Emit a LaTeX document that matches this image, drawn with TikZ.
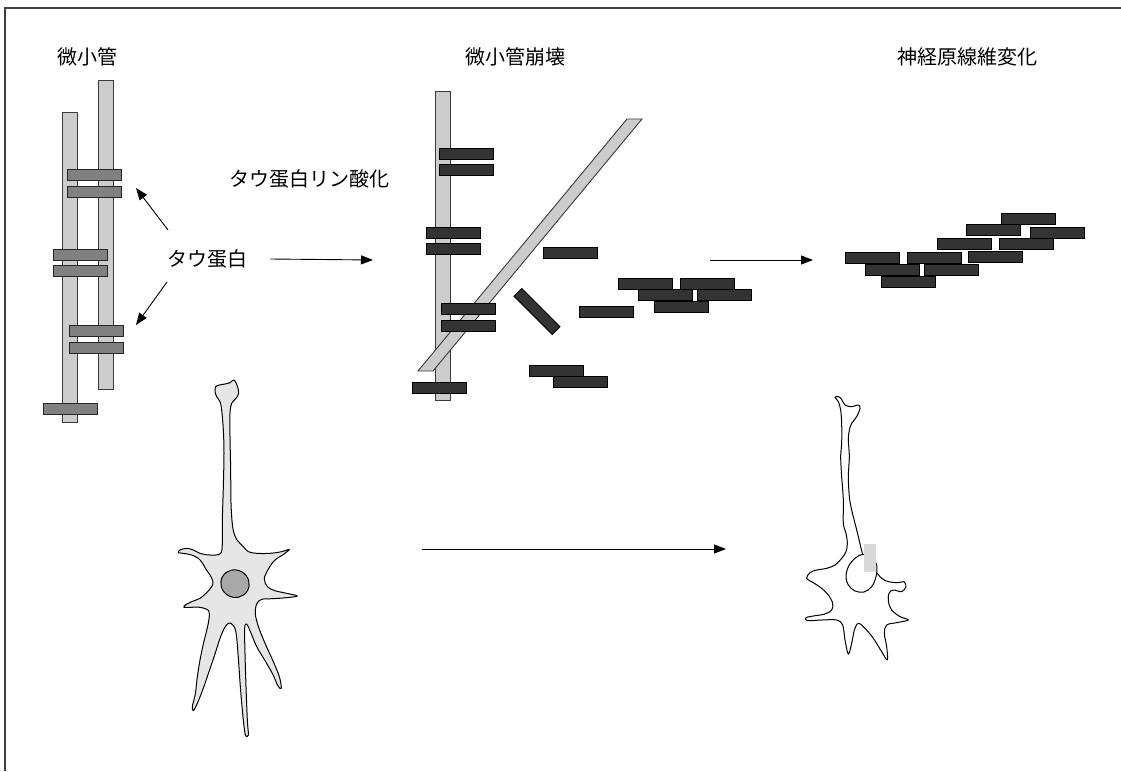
\documentclass[tikz,border=0pt]{standalone}
\usepackage{fontspec}
\newfontfamily\jpfont{Noto Sans CJK JP}
\usetikzlibrary{arrows.meta}
\definecolor{tubefill}{HTML}{CCCCCC}
\definecolor{tubeline}{HTML}{3A3A3A}
\definecolor{taufill}{HTML}{808080}
\definecolor{darkfill}{HTML}{333333}
\definecolor{cellfill}{HTML}{E6E6E6}
\definecolor{nucfill}{HTML}{A8A8A8}
\definecolor{framecol}{HTML}{404040}
\definecolor{patch}{HTML}{D9D9D9}
% a short bar of given top-left corner
\newcommand\taubar[2]{\draw[taubox] (#1,#2) rectangle ++(54,11.5);}
\newcommand\darkbar[2]{\draw[darkbox] (#1,#2) rectangle ++(54.5,11.5);}
\begin{document}
\begin{tikzpicture}[x=1pt,y=-1pt,
  lbl/.style={font=\jpfont\fontsize{20}{24}\selectfont, inner sep=0pt},
  tube/.style={fill=tubefill, draw=tubeline, line width=0.9pt},
  taubox/.style={fill=taufill, draw=black!85, line width=0.9pt},
  darkbox/.style={fill=darkfill, draw=black, line width=0.9pt},
  arr/.style={-{Triangle[length=12pt,width=9pt]}, line width=0.9pt},
  cell/.style={line width=1pt, draw=black, line join=round}]
\useasboundingbox (0,0) rectangle (1121,771);

% frame on the left and top
\draw[framecol, line width=1.6pt] (5,771) -- (5,8) -- (1121,8);

% titles
\node[lbl, anchor=west] (tmt) at (57,57) {微小管};
\node[lbl, anchor=west] (tcol) at (465,57) {微小管崩壊};
\node[lbl, anchor=west] (tnft) at (897,57) {神経原線維変化};
\node[lbl, anchor=west] (ttau) at (167,259) {タウ蛋白};
\node[lbl, anchor=west] (tphos) at (229,179) {タウ蛋白リン酸化};

% ---------- intact microtubules with tau ----------
\draw[tube] (62,112) rectangle (77,422);
\draw[tube] (98,80) rectangle (113,389);
\taubar{67}{169}
\taubar{67}{186}
\taubar{53}{249}
\taubar{53}{265}
\taubar{69}{325}
\taubar{69}{342}
\taubar{43}{403}

% tau label arrows
\coordinate (upS) at (168,230);
\coordinate (upE) at (136,188);
\coordinate (dnS) at (167,282);
\coordinate (dnE) at (136,325);
\coordinate (midE) at (373,260);
\draw[arr] (upS) -- (upE);
\draw[arr] (dnS) -- (dnE);
\draw[arr] (ttau.east) ++(23,0) coordinate (midS) -- (midE);

% ---------- collapsing microtubules ----------
\draw[tube] (435,91) rectangle (450,400);
\draw[tube] (418,371) -- (433,371) -- (642,119) -- (627,119) -- cycle;
\darkbar{439}{148}
\darkbar{439}{164}
\darkbar{426}{227}
\darkbar{426}{243}
\darkbar{441}{303}
\darkbar{441}{320}
\darkbar{412}{382}
\darkbar{543}{247}
\draw[darkbox] (514,296.3) -- (521.8,288.5) -- (560,326.7) -- (552.2,334.5) -- cycle;
\darkbar{579}{306}
\darkbar{618}{278}
\darkbar{680}{278}
\darkbar{638}{289}
\darkbar{697}{289}
\darkbar{654}{301}
\darkbar{529}{365}
\darkbar{553}{376}

\coordinate (rS) at (710,260);
\coordinate (rE) at (813,260);
\draw[arr] (rS) -- (rE);

% ---------- tangle ----------
\darkbar{1001}{213}
\darkbar{966}{224}
\darkbar{1030}{227}
\darkbar{937}{238}
\darkbar{999}{238}
\darkbar{968}{251}
\darkbar{845}{252}
\darkbar{907}{252}
\darkbar{865}{264}
\darkbar{924}{264}
\darkbar{881}{276}

% ---------- healthy neuron ----------
\begin{scope}[shift={(160,370)}, scale=1/3]
\draw[cell, fill=cellfill] plot[smooth cycle, tension=0.55] coordinates {
 (185,120) (180,95) (170,80) (165,65) (167,50) (178,45) (195,42) (210,38) (222,30)
 (232,48) (236,70) (228,85) (215,100) (210,130)
 (210,200) (212,300) (213,400) (218,470) (228,505) (250,530) (265,545) (290,550)
 (330,550) (365,545) (388,538) (372,552) (345,570) (328,592) (313,625) (322,650)
 (345,662) (380,670) (412,678)
 (380,683) (340,686) (305,688) (290,702) (286,732) (296,772) (316,822) (340,875)
 (358,920) (364,955) (354,948) (338,912) (314,870) (290,830) (270,782) (260,762)
 (254,775) (255,850) (258,950) (262,1050) (265,1095) (256,1094) (249,1040) (241,950)
 (234,850) (227,782) (213,760)
 (203,762) (193,775) (180,805) (165,852) (148,902) (128,960) (112,1000) (100,1022)
 (97,1010) (103,985) (107,965) (112,920) (120,870) (130,822) (140,782) (147,747)
 (146,722)
 (120,712) (90,712) (72,712) (76,705) (95,695) (120,685) (140,668) (155,650)
 (159,635) (150,615) (138,598) (128,580) (115,565) (95,555) (70,550) (55,548)
 (60,540) (80,535) (100,540) (120,550) (150,555) (181,551) (187,520) (187,450)
 (190,350) (192,250) (190,180)};
\draw[cell, fill=nucfill, rotate around={-30:(225,641)}] (225,641) ellipse [x radius=43, y radius=41];
\end{scope}

% ---------- neuron with tangle ----------
\begin{scope}[shift={(790,390)}, scale=1/3]
\draw[cell] plot[smooth, tension=0.55] coordinates {
 (218,493) (212,470) (205,440) (195,400) (185,360) (178,320) (175,260) (178,200)
 (175,150) (178,120) (185,100) (200,80) (210,55) (205,45) (185,50) (165,45)
 (155,28) (145,20) (135,22)
 (145,35) (152,60) (155,100) (155,160) (152,200) (155,260) (160,330) (160,400)
 (168,430) (172,460) (168,485) (155,505) (135,525) (110,535) (80,540) (60,548)
 (50,565) (70,578) (95,595) (115,615) (128,640) (125,660) (105,672) (70,678)
 (48,683) (52,692) (95,690) (140,690) (158,705) (165,750) (175,792)
 (185,760) (193,720) (205,700) (225,715) (250,745) (275,785) (292,810)
 (290,770) (283,730) (290,705) (320,698) (355,690)
 (330,680) (305,660) (295,635) (297,610) (310,600) (335,605) (348,590) (342,575)
 (325,578) (295,575) (275,565) (260,548)};
\draw[cell] plot[smooth cycle, tension=0.6] coordinates {
 (218,493) (245,500) (260,525) (258,560) (245,590) (222,606) (195,603) (175,585)
 (168,560) (175,530) (195,505)};
\fill[patch] (222,462) rectangle (258,545);
\end{scope}

% ---------- progression arrow ----------
\coordinate (bS) at (422,549);
\coordinate (bE) at (726,549);
\draw[arr] (bS) -- (bE);
\end{tikzpicture}
\end{document}
